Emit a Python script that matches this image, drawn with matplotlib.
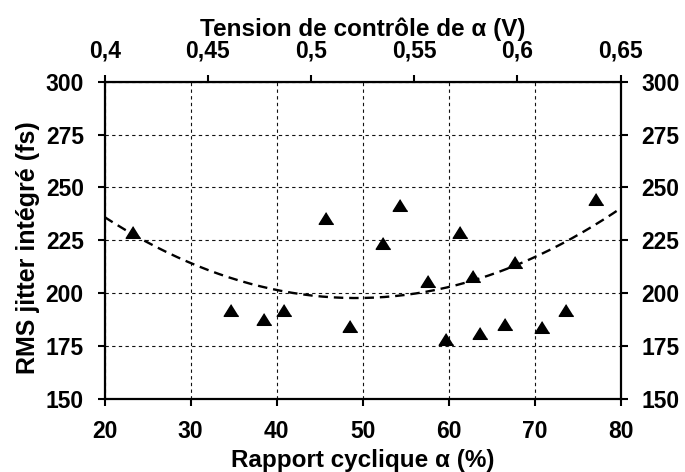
import numpy as np
import matplotlib
matplotlib.use("Agg")
import matplotlib.pyplot as plt
from matplotlib.ticker import FuncFormatter, MultipleLocator

plt.rcParams["font.family"] = ["Liberation Sans", "DejaVu Sans"]
plt.rcParams["font.weight"] = "bold"

# Rapport cyclique (%) et jitter RMS intégré (fs)
duty_cycle = [23.3, 34.7, 38.5, 40.9, 45.7, 48.5, 52.4, 54.3, 57.6,
              59.7, 61.3, 62.8, 63.6, 66.6, 67.7, 70.9, 73.6, 77.1]
rms_jitter = [229.1, 192.0, 187.6, 192.0, 235.5, 184.5, 223.9, 241.8, 205.8,
              178.3, 229.1, 208.1, 181.3, 185.3, 214.9, 183.9, 192.0, 244.6]

# courbe de tendance polynomiale (ordre 2) : a*x^2 + b*x + c
trend_coef = [0.0448, -4.41, 306.2]

top_ticks = [0.40, 0.45, 0.50, 0.55, 0.60, 0.65]
v_min, v_max = 0.40, 0.65
x_min, x_max = 20, 80


def duty_to_volt(x):
    return v_min + (np.asarray(x) - x_min) * (v_max - v_min) / (x_max - x_min)


def volt_to_duty(v):
    return x_min + (np.asarray(v) - v_min) * (x_max - x_min) / (v_max - v_min)


fig = plt.figure(figsize=(6.85, 4.72), dpi=100)
ax = fig.add_axes([0.1528, 0.155, 0.7533, 0.672])

tri = [(0, 0.8), (-1, -0.8), (1, -0.8)]
ax.plot(duty_cycle, rms_jitter, linestyle="none", marker=tri, markersize=10.5,
        color="black", zorder=3)

xs = np.linspace(x_min, x_max, 200)
ax.plot(xs, np.polyval(trend_coef, xs), color="black", lw=1.7, dashes=(4, 2.5),
        zorder=2)

ax.set_xlim(x_min, x_max)
ax.set_ylim(150, 300)
ax.xaxis.set_major_locator(MultipleLocator(10))
ax.yaxis.set_major_locator(MultipleLocator(25))
ax.grid(True, color="#111111", lw=0.8, dashes=(3, 3))
ax.set_axisbelow(True)

for s in ax.spines.values():
    s.set_linewidth(1.6)
ax.tick_params(axis="both", direction="out", length=5, width=1.5, labelsize=16.5,
               pad=10)
ax.tick_params(axis="y", right=True, labelright=True)

ax.set_xlabel("Rapport cyclique α (%)", fontsize=17.5, fontweight="bold",
              labelpad=4.5)
ax.set_ylabel("RMS jitter intégré (fs)", fontsize=18, fontweight="bold",
              labelpad=4)
ax.yaxis.label.set_y(0.478)

top = ax.secondary_xaxis("top", functions=(duty_to_volt, volt_to_duty))
top.set_ticks(top_ticks)
top.xaxis.set_major_formatter(FuncFormatter(lambda v, p: f"{v:g}".replace(".", ",")))
top.tick_params(direction="out", length=5, width=1.5, labelsize=16.5, pad=9)
top.set_xlabel("Tension de contrôle de α (V)", fontsize=17.5, fontweight="bold",
               labelpad=2)

fig.savefig("out.png", dpi=100)
